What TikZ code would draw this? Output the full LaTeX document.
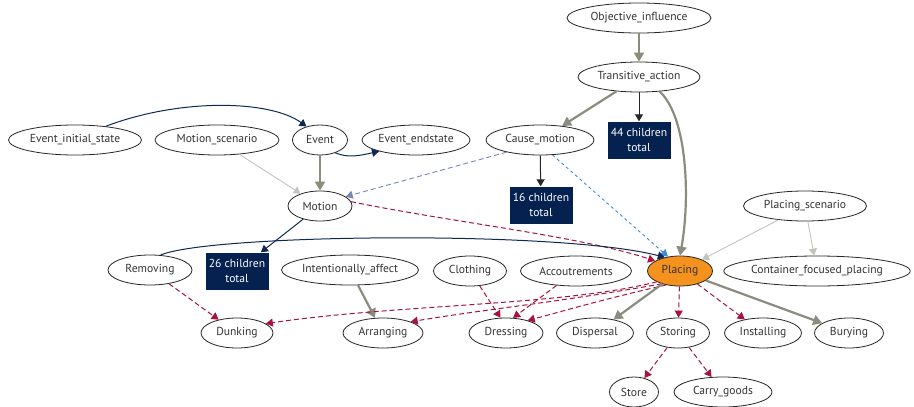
\documentclass[tikz,border=0pt]{standalone}
\usepackage{fontspec}
\setmainfont{PT Sans}
\usetikzlibrary{shapes.geometric,arrows.meta}
\definecolor{inhgray}{RGB}{136,141,126}
\definecolor{litegray}{RGB}{196,196,190}
\definecolor{navyline}{RGB}{14,40,86}
\definecolor{boxnavy}{RGB}{4,33,79}
\definecolor{crimson}{RGB}{168,18,60}
\definecolor{bluegray}{RGB}{120,135,182}
\definecolor{skyblue}{RGB}{58,140,212}
\definecolor{placingorange}{RGB}{245,146,30}
\begin{document}
\begin{tikzpicture}[x=1pt,y=-1pt,
  fr/.style={ellipse,draw=black!85,line width=0.8pt,fill=white,inner sep=0pt,minimum height=30pt,font=\fontsize{11.6}{14}\selectfont,text=black!80},
  cnt/.style={rectangle,fill=boxnavy,text=white,align=center,inner sep=0pt,minimum width=63pt,minimum height=37pt,font=\fontsize{11.6}{14.5}\selectfont},
  inh/.style={draw=inhgray,line width=2.2pt,-{Triangle[length=9pt,width=10pt]}},
  sub/.style={draw=black!85,line width=1pt,-{Triangle[length=7pt,width=8pt]}},
  usee/.style={draw=navyline,line width=1pt,-{Triangle[length=7pt,width=8pt]}},
  persp/.style={draw=crimson,line width=1pt,dash pattern=on 5pt off 3pt,-{Triangle[length=7pt,width=8pt]}},
  seealso/.style={draw=litegray,line width=0.9pt,-{Triangle[length=7pt,width=8pt]}},
  cause/.style={draw=bluegray,line width=0.9pt,dash pattern=on 5pt off 3pt,-{Triangle[length=7pt,width=8pt]}},
  inch/.style={draw=skyblue,line width=0.9pt,dash pattern=on 3pt off 3pt,-{Triangle[length=7pt,width=8pt]}}
]
\useasboundingbox (0,0) rectangle (914,407);
% nodes
\node[fr,minimum width=144pt] (oi) at (639,18) {Objective\_influence};
\node[fr,minimum width=122pt] (ta) at (639,77) {Transitive\_action};
\node[cnt] (c44) at (639,140) {44 children\\total};
\node[fr,minimum width=108pt] (cm) at (540,140) {Cause\_motion};
\node[cnt] (c16) at (541,205) {16 children\\total};
\node[fr,minimum width=133pt] (eis) at (75,140) {Event\_initial\_state};
\node[fr,minimum width=124pt] (ms) at (217,140) {Motion\_scenario};
\node[fr,minimum width=55pt] (ev) at (320,140) {Event};
\node[fr,minimum width=108pt] (ee) at (416,140) {Event\_endstate};
\node[fr,minimum width=64pt] (mo) at (320,206) {Motion};
\node[fr,minimum width=84pt] (rm) at (150,270) {Removing};
\node[cnt] (c26) at (237,271) {26 children\\total};
\node[fr,minimum width=137pt] (ia) at (350,270) {Intentionally\_affect};
\node[fr,minimum width=73pt] (cl) at (470,271) {Clothing};
\node[fr,minimum width=111pt] (ac) at (576,271) {Accoutrements};
\node[fr,minimum width=65pt,fill=placingorange] (pl) at (680,271) {Placing};
\node[fr,minimum width=123pt] (ps) at (805,206) {Placing\_scenario};
\node[fr,minimum width=184pt] (cfp) at (817,271) {Container\_focused\_placing};
\node[fr,minimum width=72pt] (dk) at (237,333) {Dunking};
\node[fr,minimum width=80pt] (ar) at (383,333) {Arranging};
\node[fr,minimum width=74pt] (dr) at (506,333) {Dressing};
\node[fr,minimum width=77pt] (dp) at (595,333) {Dispersal};
\node[fr,minimum width=63pt] (st) at (678,333) {Storing};
\node[fr,minimum width=77pt] (in) at (763,333) {Installing};
\node[fr,minimum width=69pt] (bu) at (849,333) {Burying};
\node[fr,minimum width=49pt] (so) at (634,392) {Store};
\node[fr,minimum width=98pt] (cg) at (723,392) {Carry\_goods};
% edges
\draw[inh] (oi) -- (ta);
\draw[inh] (ta) -- (cm);
\draw[sub] (ta) -- (c44);
\draw[inh] (ta.-35) .. controls (688,118) and (690,200) .. (pl.north);
\draw[sub] (cm) -- (c16);
\draw[cause] (cm.200) -- (mo.20);
\draw[inch] (cm.-50) -- (pl.130);
\draw[usee] (eis.24) .. controls (180,98) and (270,100) .. (ev.135);
\draw[usee] (ev.-40) .. controls (348,158) and (358,156) .. (ee.197);
\draw[inh] (ev) -- (mo);
\draw[seealso] (ms) -- (mo);
\draw[usee] (mo) -- (c26);
\draw[persp] (mo.8) .. controls (450,222) and (580,236) .. (pl.158);
\draw[usee] (rm.55) .. controls (210,234) and (560,230) .. (pl.138);
\draw[persp] (rm) -- (dk);
\draw[inh] (ia) -- (ar);
\draw[persp] (cl) -- (dr.110);
\draw[persp] (ac) -- (dr.65);
\draw[persp] (pl.205) .. controls (560,306) and (400,304) .. (dk.18);
\draw[persp] (pl.215) .. controls (560,302) and (480,310) .. (ar.22);
\draw[persp] (pl.225) .. controls (600,300) and (560,312) .. (dr.30);
\draw[inh] (pl) -- (dp);
\draw[persp] (pl) -- (st);
\draw[persp] (pl) -- (in);
\draw[inh] (pl) -- (bu);
\draw[persp] (st) -- (so);
\draw[persp] (st) -- (cg);
\draw[seealso] (ps) -- (pl);
\draw[seealso] (ps) -- (cfp);
\end{tikzpicture}
\end{document}
